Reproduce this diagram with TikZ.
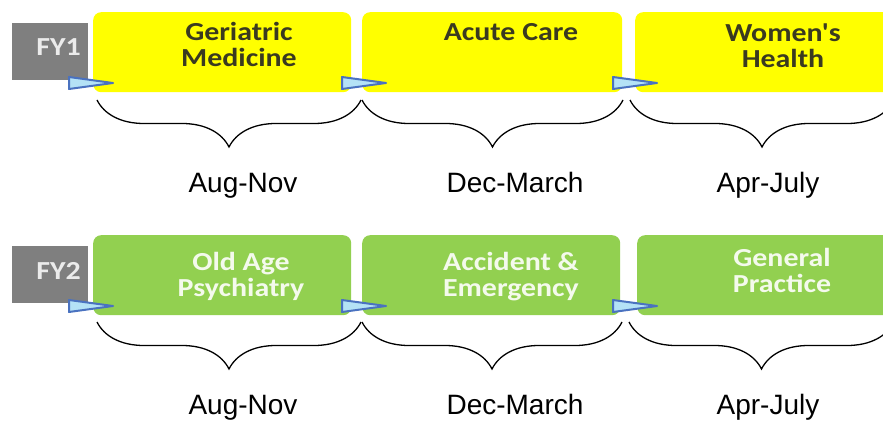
\documentclass[tikz,border=0pt]{standalone}
\usepackage{fontspec}
\setmainfont{Liberation Sans}
\newfontfamily\boxfont[FakeStretch=1.15]{Carlito}
\usetikzlibrary{decorations.pathreplacing}
\definecolor{yel}{HTML}{FFFF00}
\definecolor{grn}{HTML}{92D050}
\definecolor{fygrey}{HTML}{7F7F7F}
\definecolor{ytxt}{HTML}{3A3A20}
\definecolor{gtxt}{HTML}{F4FAEC}
\definecolor{arrfill}{HTML}{B4E2F6}
\definecolor{arrline}{HTML}{4A72C0}
\begin{document}
\begin{tikzpicture}[x=1pt,y=-1pt,
  rot/.style={rounded corners=8pt, minimum height=80pt, anchor=north west, inner sep=0pt},
  ybox/.style={rot, fill=yel},
  gbox/.style={rot, fill=grn},
  fybox/.style={fill=fygrey, minimum width=76pt, minimum height=57pt, anchor=north west, inner sep=0pt},
  fytext/.style={font=\boxfont\bfseries\fontsize{26}{26}\selectfont, text=white!92!black, anchor=base east, inner sep=0pt},
  ytext/.style={font=\boxfont\bfseries\fontsize{26}{26}\selectfont, text=ytxt, align=center, anchor=base, inner sep=0pt},
  gtext/.style={font=\boxfont\bfseries\fontsize{26}{26}\selectfont, text=gtxt, align=center, anchor=base, inner sep=0pt},
  lab/.style={font=\fontsize{28}{30}\selectfont, text=black, anchor=base, inner sep=0pt},
  brc/.style={decorate, decoration={brace, mirror, amplitude=47pt}, line width=1.3pt, black},
  tri/.style={fill=arrfill, draw=arrline, line width=2pt, line join=round}
]
\useasboundingbox (0,0) rectangle (883,422);
\clip (0,0) rectangle (883,422);
\fill[white] (0,0) rectangle (883,422);

% ---------- Row 1 ----------
\node[fybox] (fy1) at (12,23) {};
\node[fytext] (fy1t) at (81,56) {FY1};
\node[ybox, minimum width=258pt] (y1) at (93,12) {};
\node[ybox, minimum width=260pt] (y2) at (362,12) {};
\node[ybox, minimum width=270pt] (y3) at (635,12) {};
\node[ytext] (y1t) at (239,67) {Geriatric\\Medicine};
\node[ytext] (y2t) at (511,41) {Acute Care};
\node[ytext] (y3t) at (783,68) {Women's\\Health};

\coordinate (a1) at (69,83);
\coordinate (a2) at (342,83);
\coordinate (a3) at (613,83);
\foreach \c in {a1,a2,a3}{
  \draw[tri] (\c) ++(0,-6) -- ++(44,6) -- ++(-44,6) -- cycle;
}

\coordinate (br1s) at (97,100);  \coordinate (br1e) at (361,100);
\coordinate (br2s) at (362,100); \coordinate (br2e) at (623,100);
\coordinate (br3s) at (630,100); \coordinate (br3e) at (894,100);
\draw[brc] (br1s) -- (br1e);
\draw[brc] (br2s) -- (br2e);
\draw[brc] (br3s) -- (br3e);

\node[lab] (l1) at (243,193) {Aug-Nov};
\node[lab] (l2) at (515,193) {Dec-March};
\node[lab] (l3) at (768,193) {Apr-July};

% ---------- Row 2 ----------
\node[fybox] (fy2) at (12,246) {};
\node[fytext] (fy2t) at (81,279) {FY2};
\node[gbox, minimum width=258pt] (g1) at (93,235) {};
\node[gbox, minimum width=258pt] (g2) at (362,235) {};
\node[gbox, minimum width=270pt] (g3) at (637,235) {};
\node[gtext] (g1t) at (241,296) {Old Age\\Psychiatry};
\node[gtext] (g2t) at (511,296) {Accident \&\\Emergency};
\node[gtext] (g3t) at (782,292) {General\\Practice};

\coordinate (c1) at (69,306);
\coordinate (c2) at (342,306);
\coordinate (c3) at (613,306);
\foreach \c in {c1,c2,c3}{
  \draw[tri] (\c) ++(0,-6) -- ++(44,6) -- ++(-44,6) -- cycle;
}

\coordinate (bq1s) at (97,322);  \coordinate (bq1e) at (361,322);
\coordinate (bq2s) at (362,322); \coordinate (bq2e) at (622,322);
\coordinate (bq3s) at (629,322); \coordinate (bq3e) at (894,322);
\draw[brc] (bq1s) -- (bq1e);
\draw[brc] (bq2s) -- (bq2e);
\draw[brc] (bq3s) -- (bq3e);

\node[lab] (m1) at (243,414) {Aug-Nov};
\node[lab] (m2) at (515,414) {Dec-March};
\node[lab] (m3) at (768,414) {Apr-July};
\end{tikzpicture}
\end{document}
